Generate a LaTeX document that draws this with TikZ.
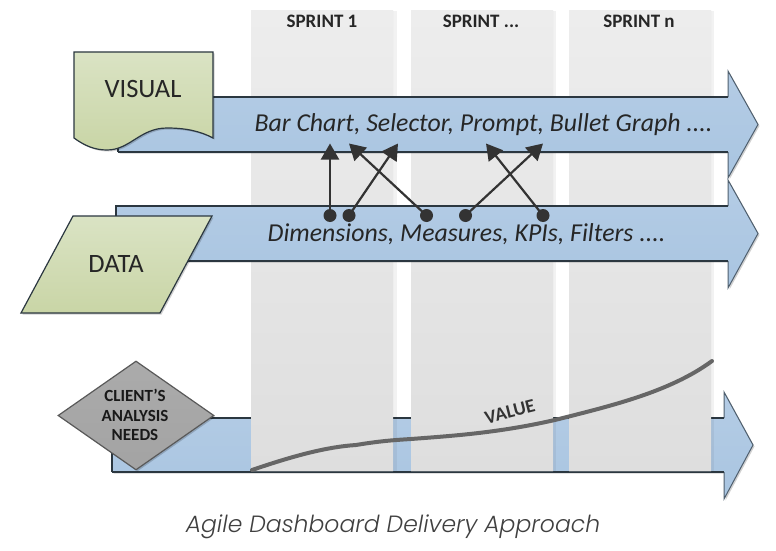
\documentclass[tikz,border=0pt]{standalone}
\usepackage{fontspec}
\setmainfont{Carlito}
\newfontfamily\capfont{Poppins Light Italic}
\usetikzlibrary{arrows.meta,shadows,shapes.geometric}
\definecolor{blockblue}{HTML}{A9C5E1}
\definecolor{blockblueTop}{HTML}{B4CCE5}
\definecolor{lineDark}{HTML}{2B3740}
\definecolor{headLine}{HTML}{4F5F6E}
\definecolor{leafTop}{HTML}{DAE3C4}
\definecolor{leafBot}{HTML}{C9D5A6}
\definecolor{colTop}{HTML}{EDEDED}
\definecolor{colBot}{HTML}{DEDEDE}
\definecolor{valueLine}{HTML}{666666}
\definecolor{connector}{HTML}{333333}
\tikzset{
  softshadow/.style={drop shadow={shadow xshift=1.5pt,shadow yshift=-1.5pt,fill=black,opacity=.18}},
  blockfill/.style={top color=blockblueTop,bottom color=blockblue,draw=none},
  bodyline/.style={draw=lineDark,line width=1.3pt},
  headline/.style={draw=headLine,line width=1pt},
  sprintcol/.style={top color=colTop,bottom color=colBot,draw=none},
  colshade/.style={fill=black,opacity=.05,draw=none},
  sprinthead/.style={font=\bfseries\fontsize{19}{22}\selectfont,text=black!85},
  blocktext/.style={font=\itshape\fontsize{25.8}{30}\selectfont,text=black!85},
  shapetext/.style={font=\fontsize{26.5}{30}\selectfont,text=black!85},
  leaf/.style={top color=leafTop,bottom color=leafBot,draw=lineDark,line width=1.2pt,softshadow},
  link/.style={draw=connector,line width=2.2pt,-{Triangle[length=16pt,width=18pt]},shorten <=0pt},
  dotnode/.style={circle,fill=connector,draw=none,inner sep=0pt,minimum size=13pt},
  needtext/.style={font=\bfseries\fontsize{17}{19.5}\selectfont,align=center,text=black!90},
  valuetext/.style={font=\bfseries\fontsize{19}{20}\selectfont,text=black!80},
  captext/.style={font=\capfont\fontsize{23.5}{28}\selectfont,text=black!75},
}
% x0, ytop, ybot, xhead, xtip, headtop, headbot
\newcommand{\blockarrow}[7]{%
  \path[blockfill,softshadow] (#1,#2) -- (#4,#2) -- (#4,#6) -- (#5,{(#2+#3)/2}) -- (#4,#7) -- (#4,#3) -- (#1,#3) -- cycle;
  \draw[headline] (#4,#2) -- (#4,#6) -- (#5,{(#2+#3)/2}) -- (#4,#7) -- (#4,#3);
  \draw[bodyline] (#1,#3) -- (#4,#3);
  \draw[bodyline] (#1,#3) -- (#1,#2) -- (#4,#2);
}
\begin{document}
\begin{tikzpicture}[x=1pt,y=-1pt]
\useasboundingbox (0,0) rectangle (776,551);
\fill[white] (0,0) rectangle (776,551);
% bottom arrow, behind the sprint columns
\blockarrow{112}{418}{472}{724}{753}{392}{499}
% sprint columns
\path[sprintcol] (251,11) rectangle (393,471);
\path[colshade] (393,11) rectangle (397,471);
\path[sprintcol] (411,11) rectangle (553,471);
\path[colshade] (553,11) rectangle (556,471);
\path[sprintcol] (569,11) rectangle (711,471);
\path[colshade] (711,11) rectangle (714,471);
\draw[bodyline,opacity=.75] (251,472) -- (724,472);
\node[sprinthead] (s1) at (322,21) {SPRINT 1};
\node[sprinthead] (s2) at (481,21) {SPRINT ...};
\node[sprinthead] (s3) at (639,21) {SPRINT n};
% value curve
\draw[valueLine,line width=4pt,line cap=round] (252,470)
  .. controls (290,457) and (325,447) .. (356,445)
  .. controls (380,441) and (395,440) .. (411,439)
  .. controls (450,436) and (500,433) .. (559,419)
  .. controls (610,406) and (670,392) .. (712,361);
\node[valuetext,rotate=14,inner sep=0pt] (val) at (510,412) {VALUE};
% data and visual arrows
\blockarrow{116}{206}{261}{728}{758}{180}{288}
\blockarrow{118}{97}{152}{728}{758}{71}{178}
% visual document
\path[leaf] (74,52) -- (213,52) -- (213,138)
  .. controls (200,131) and (185,128) .. (167,128)
  .. controls (140,128) and (130,150) .. (107,150)
  .. controls (95,150) and (85,146) .. (74,138) -- cycle;
\node[shapetext] (visual) at (143,89) {VISUAL};
% data parallelogram
\path[leaf] (73,216) -- (212,216) -- (160,313) -- (21,313) -- cycle;
\node[shapetext] (data) at (116,264) {DATA};
% diamond
\node[diamond,aspect=1.43,minimum width=156pt,minimum height=109pt,inner sep=0pt,
  top color=black!33,bottom color=black!36,draw=black!65,line width=1.2pt,softshadow] (need) at (136,415.5) {};
\node[needtext] (needlbl) at (135,415) {CLIENT’S\\ANALYSIS\\NEEDS};
% block texts
\node[blocktext] (barlbl) at (483.5,125) {Bar Chart, Selector, Prompt, Bullet Graph ....};
\node[blocktext] (dimlbl) at (466.5,234) {Dimensions, Measures, KPIs, Filters ....};
% connectors
\node[dotnode] (d1) at (330,215.5) {};
\node[dotnode] (d2) at (349,215.5) {};
\node[dotnode] (d3) at (426.5,215.5) {};
\node[dotnode] (d4) at (465.5,215.5) {};
\node[dotnode] (d5) at (543,215.5) {};
\coordinate (t1) at (330,143.5);
\coordinate (t2) at (349,143.5);
\coordinate (t3) at (398,143.5);
\coordinate (t4) at (486,143.5);
\coordinate (t5) at (543,143.5);
\draw[link] (d1.center) -- (t1);
\draw[link] (d2.center) -- (t3);
\draw[link] (d3.center) -- (t2);
\draw[link] (d4.center) -- (t5);
\draw[link] (d5.center) -- (t4);
% caption
\node[captext] (cap) at (393,527) {Agile Dashboard Delivery Approach};
\end{tikzpicture}
\end{document}
